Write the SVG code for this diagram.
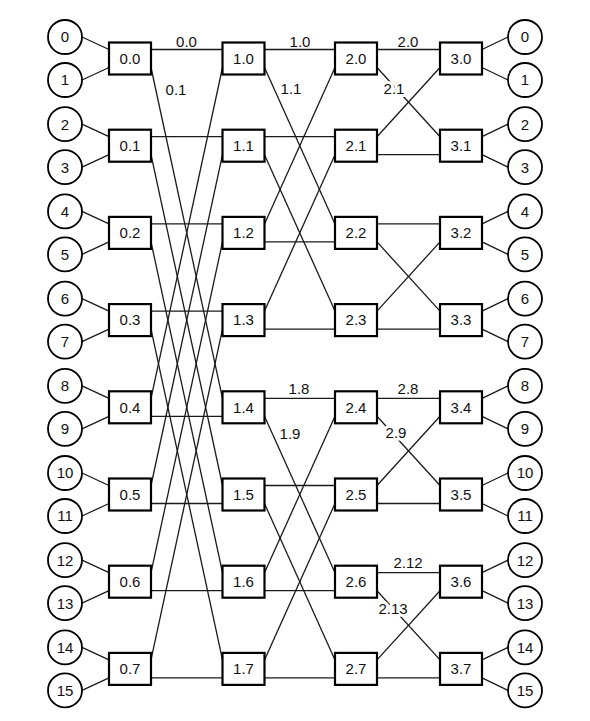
<svg xmlns="http://www.w3.org/2000/svg" width="590" height="721" viewBox="0 0 590 721">
<style>
text{font-family:"Liberation Sans",Arial,sans-serif;font-size:15px;fill:#111;text-anchor:middle}
.e line{stroke:#1a1a1a;stroke-width:1.3}
.box{fill:#fff;stroke:#000;stroke-width:2.2}
.io{fill:#fff;stroke:#000;stroke-width:1.8}
.lbl{stroke:#fff;stroke-width:6;stroke-linejoin:round;paint-order:stroke}
</style>
<rect width="590" height="721" fill="#fff"/>
<g id="connectors" class="e">
<!-- left circles to stage 0 -->
<line x1="82" y1="37" x2="109" y2="49.5"/><line x1="82" y1="80" x2="109" y2="67.5"/>
<line x1="82" y1="124.2" x2="109" y2="136.7"/><line x1="82" y1="167.2" x2="109" y2="154.7"/>
<line x1="82" y1="211.4" x2="109" y2="223.9"/><line x1="82" y1="254.4" x2="109" y2="241.9"/>
<line x1="82" y1="298.6" x2="109" y2="311.1"/><line x1="82" y1="341.6" x2="109" y2="329.1"/>
<line x1="82" y1="385.8" x2="109" y2="398.3"/><line x1="82" y1="428.8" x2="109" y2="416.3"/>
<line x1="82" y1="473" x2="109" y2="485.5"/><line x1="82" y1="516" x2="109" y2="503.5"/>
<line x1="82" y1="560.2" x2="109" y2="572.7"/><line x1="82" y1="603.2" x2="109" y2="590.7"/>
<line x1="82" y1="647.4" x2="109" y2="659.9"/><line x1="82" y1="690.4" x2="109" y2="677.9"/>
<!-- stage 0 to 1 -->
<line x1="151" y1="49.5" x2="222.5" y2="49.5"/><line x1="151" y1="67.5" x2="222.5" y2="398.3"/>
<line x1="151" y1="136.7" x2="222.5" y2="136.7"/><line x1="151" y1="154.7" x2="222.5" y2="485.5"/>
<line x1="151" y1="223.9" x2="222.5" y2="223.9"/><line x1="151" y1="241.9" x2="222.5" y2="572.7"/>
<line x1="151" y1="311.1" x2="222.5" y2="311.1"/><line x1="151" y1="329.1" x2="222.5" y2="659.9"/>
<line x1="151" y1="416.3" x2="222.5" y2="416.3"/><line x1="151" y1="398.3" x2="222.5" y2="67.5"/>
<line x1="151" y1="503.5" x2="222.5" y2="503.5"/><line x1="151" y1="485.5" x2="222.5" y2="154.7"/>
<line x1="151" y1="590.7" x2="222.5" y2="590.7"/><line x1="151" y1="572.7" x2="222.5" y2="241.9"/>
<line x1="151" y1="677.9" x2="222.5" y2="677.9"/><line x1="151" y1="659.9" x2="222.5" y2="329.1"/>
<!-- stage 1 to 2 -->
<line x1="264.5" y1="49.5" x2="335" y2="49.5"/><line x1="264.5" y1="67.5" x2="335" y2="223.9"/>
<line x1="264.5" y1="136.7" x2="335" y2="136.7"/><line x1="264.5" y1="154.7" x2="335" y2="311.1"/>
<line x1="264.5" y1="241.9" x2="335" y2="241.9"/><line x1="264.5" y1="223.9" x2="335" y2="67.5"/>
<line x1="264.5" y1="329.1" x2="335" y2="329.1"/><line x1="264.5" y1="311.1" x2="335" y2="154.7"/>
<line x1="264.5" y1="398.3" x2="335" y2="398.3"/><line x1="264.5" y1="416.3" x2="335" y2="572.7"/>
<line x1="264.5" y1="485.5" x2="335" y2="485.5"/><line x1="264.5" y1="503.5" x2="335" y2="659.9"/>
<line x1="264.5" y1="590.7" x2="335" y2="590.7"/><line x1="264.5" y1="572.7" x2="335" y2="416.3"/>
<line x1="264.5" y1="677.9" x2="335" y2="677.9"/><line x1="264.5" y1="659.9" x2="335" y2="503.5"/>
<!-- stage 2 to 3 -->
<line x1="377" y1="49.5" x2="440" y2="49.5"/><line x1="377" y1="67.5" x2="440" y2="136.7"/>
<line x1="377" y1="154.7" x2="440" y2="154.7"/><line x1="377" y1="136.7" x2="440" y2="67.5"/>
<line x1="377" y1="223.9" x2="440" y2="223.9"/><line x1="377" y1="241.9" x2="440" y2="311.1"/>
<line x1="377" y1="329.1" x2="440" y2="329.1"/><line x1="377" y1="311.1" x2="440" y2="241.9"/>
<line x1="377" y1="398.3" x2="440" y2="398.3"/><line x1="377" y1="416.3" x2="440" y2="485.5"/>
<line x1="377" y1="503.5" x2="440" y2="503.5"/><line x1="377" y1="485.5" x2="440" y2="416.3"/>
<line x1="377" y1="572.7" x2="440" y2="572.7"/><line x1="377" y1="590.7" x2="440" y2="659.9"/>
<line x1="377" y1="677.9" x2="440" y2="677.9"/><line x1="377" y1="659.9" x2="440" y2="590.7"/>
<!-- stage 3 to right circles -->
<line x1="482" y1="49.5" x2="508" y2="37"/><line x1="482" y1="67.5" x2="508" y2="80"/>
<line x1="482" y1="136.7" x2="508" y2="124.2"/><line x1="482" y1="154.7" x2="508" y2="167.2"/>
<line x1="482" y1="223.9" x2="508" y2="211.4"/><line x1="482" y1="241.9" x2="508" y2="254.4"/>
<line x1="482" y1="311.1" x2="508" y2="298.6"/><line x1="482" y1="329.1" x2="508" y2="341.6"/>
<line x1="482" y1="398.3" x2="508" y2="385.8"/><line x1="482" y1="416.3" x2="508" y2="428.8"/>
<line x1="482" y1="485.5" x2="508" y2="473"/><line x1="482" y1="503.5" x2="508" y2="516"/>
<line x1="482" y1="572.7" x2="508" y2="560.2"/><line x1="482" y1="590.7" x2="508" y2="603.2"/>
<line x1="482" y1="659.9" x2="508" y2="647.4"/><line x1="482" y1="677.9" x2="508" y2="690.4"/>
</g>
<g id="edge-labels">
<text x="186.5" y="46.5">0.0</text>
<text class="lbl" x="176" y="94.5">0.1</text>
<text x="300" y="46.5">1.0</text>
<text class="lbl" x="291" y="94">1.1</text>
<text x="408" y="46.5">2.0</text>
<text class="lbl" x="394" y="94.3">2.1</text>
<text x="299" y="393.8">1.8</text>
<text class="lbl" x="290" y="439.3">1.9</text>
<text x="408" y="393.8">2.8</text>
<text class="lbl" x="396" y="438">2.9</text>
<text x="408" y="567.5">2.12</text>
<text class="lbl" x="393" y="614.3">2.13</text>
</g>
<g id="in0"><circle class="io" cx="65" cy="37" r="17"/><text x="65" y="42.3">0</text></g>
<g id="in1"><circle class="io" cx="65" cy="80" r="17"/><text x="65" y="85.3">1</text></g>
<g id="in2"><circle class="io" cx="65" cy="124.2" r="17"/><text x="65" y="129.5">2</text></g>
<g id="in3"><circle class="io" cx="65" cy="167.2" r="17"/><text x="65" y="172.5">3</text></g>
<g id="in4"><circle class="io" cx="65" cy="211.4" r="17"/><text x="65" y="216.7">4</text></g>
<g id="in5"><circle class="io" cx="65" cy="254.4" r="17"/><text x="65" y="259.7">5</text></g>
<g id="in6"><circle class="io" cx="65" cy="298.6" r="17"/><text x="65" y="303.9">6</text></g>
<g id="in7"><circle class="io" cx="65" cy="341.6" r="17"/><text x="65" y="346.9">7</text></g>
<g id="in8"><circle class="io" cx="65" cy="385.8" r="17"/><text x="65" y="391.1">8</text></g>
<g id="in9"><circle class="io" cx="65" cy="428.8" r="17"/><text x="65" y="434.1">9</text></g>
<g id="in10"><circle class="io" cx="65" cy="473" r="17"/><text x="65" y="478.3">10</text></g>
<g id="in11"><circle class="io" cx="65" cy="516" r="17"/><text x="65" y="521.3">11</text></g>
<g id="in12"><circle class="io" cx="65" cy="560.2" r="17"/><text x="65" y="565.5">12</text></g>
<g id="in13"><circle class="io" cx="65" cy="603.2" r="17"/><text x="65" y="608.5">13</text></g>
<g id="in14"><circle class="io" cx="65" cy="647.4" r="17"/><text x="65" y="652.7">14</text></g>
<g id="in15"><circle class="io" cx="65" cy="690.4" r="17"/><text x="65" y="695.7">15</text></g>
<g id="out0"><circle class="io" cx="525" cy="37" r="17"/><text x="525" y="42.3">0</text></g>
<g id="out1"><circle class="io" cx="525" cy="80" r="17"/><text x="525" y="85.3">1</text></g>
<g id="out2"><circle class="io" cx="525" cy="124.2" r="17"/><text x="525" y="129.5">2</text></g>
<g id="out3"><circle class="io" cx="525" cy="167.2" r="17"/><text x="525" y="172.5">3</text></g>
<g id="out4"><circle class="io" cx="525" cy="211.4" r="17"/><text x="525" y="216.7">4</text></g>
<g id="out5"><circle class="io" cx="525" cy="254.4" r="17"/><text x="525" y="259.7">5</text></g>
<g id="out6"><circle class="io" cx="525" cy="298.6" r="17"/><text x="525" y="303.9">6</text></g>
<g id="out7"><circle class="io" cx="525" cy="341.6" r="17"/><text x="525" y="346.9">7</text></g>
<g id="out8"><circle class="io" cx="525" cy="385.8" r="17"/><text x="525" y="391.1">8</text></g>
<g id="out9"><circle class="io" cx="525" cy="428.8" r="17"/><text x="525" y="434.1">9</text></g>
<g id="out10"><circle class="io" cx="525" cy="473" r="17"/><text x="525" y="478.3">10</text></g>
<g id="out11"><circle class="io" cx="525" cy="516" r="17"/><text x="525" y="521.3">11</text></g>
<g id="out12"><circle class="io" cx="525" cy="560.2" r="17"/><text x="525" y="565.5">12</text></g>
<g id="out13"><circle class="io" cx="525" cy="603.2" r="17"/><text x="525" y="608.5">13</text></g>
<g id="out14"><circle class="io" cx="525" cy="647.4" r="17"/><text x="525" y="652.7">14</text></g>
<g id="out15"><circle class="io" cx="525" cy="690.4" r="17"/><text x="525" y="695.7">15</text></g>
<g id="s0_0"><rect class="box" x="109" y="42.5" width="42" height="32"/><text x="130" y="63.8">0.0</text></g>
<g id="s0_1"><rect class="box" x="109" y="129.7" width="42" height="32"/><text x="130" y="151">0.1</text></g>
<g id="s0_2"><rect class="box" x="109" y="216.9" width="42" height="32"/><text x="130" y="238.2">0.2</text></g>
<g id="s0_3"><rect class="box" x="109" y="304.1" width="42" height="32"/><text x="130" y="325.4">0.3</text></g>
<g id="s0_4"><rect class="box" x="109" y="391.3" width="42" height="32"/><text x="130" y="412.6">0.4</text></g>
<g id="s0_5"><rect class="box" x="109" y="478.5" width="42" height="32"/><text x="130" y="499.8">0.5</text></g>
<g id="s0_6"><rect class="box" x="109" y="565.7" width="42" height="32"/><text x="130" y="587">0.6</text></g>
<g id="s0_7"><rect class="box" x="109" y="652.9" width="42" height="32"/><text x="130" y="674.2">0.7</text></g>
<g id="s1_0"><rect class="box" x="222.5" y="42.5" width="42" height="32"/><text x="243.5" y="63.8">1.0</text></g>
<g id="s1_1"><rect class="box" x="222.5" y="129.7" width="42" height="32"/><text x="243.5" y="151">1.1</text></g>
<g id="s1_2"><rect class="box" x="222.5" y="216.9" width="42" height="32"/><text x="243.5" y="238.2">1.2</text></g>
<g id="s1_3"><rect class="box" x="222.5" y="304.1" width="42" height="32"/><text x="243.5" y="325.4">1.3</text></g>
<g id="s1_4"><rect class="box" x="222.5" y="391.3" width="42" height="32"/><text x="243.5" y="412.6">1.4</text></g>
<g id="s1_5"><rect class="box" x="222.5" y="478.5" width="42" height="32"/><text x="243.5" y="499.8">1.5</text></g>
<g id="s1_6"><rect class="box" x="222.5" y="565.7" width="42" height="32"/><text x="243.5" y="587">1.6</text></g>
<g id="s1_7"><rect class="box" x="222.5" y="652.9" width="42" height="32"/><text x="243.5" y="674.2">1.7</text></g>
<g id="s2_0"><rect class="box" x="335" y="42.5" width="42" height="32"/><text x="356" y="63.8">2.0</text></g>
<g id="s2_1"><rect class="box" x="335" y="129.7" width="42" height="32"/><text x="356" y="151">2.1</text></g>
<g id="s2_2"><rect class="box" x="335" y="216.9" width="42" height="32"/><text x="356" y="238.2">2.2</text></g>
<g id="s2_3"><rect class="box" x="335" y="304.1" width="42" height="32"/><text x="356" y="325.4">2.3</text></g>
<g id="s2_4"><rect class="box" x="335" y="391.3" width="42" height="32"/><text x="356" y="412.6">2.4</text></g>
<g id="s2_5"><rect class="box" x="335" y="478.5" width="42" height="32"/><text x="356" y="499.8">2.5</text></g>
<g id="s2_6"><rect class="box" x="335" y="565.7" width="42" height="32"/><text x="356" y="587">2.6</text></g>
<g id="s2_7"><rect class="box" x="335" y="652.9" width="42" height="32"/><text x="356" y="674.2">2.7</text></g>
<g id="s3_0"><rect class="box" x="440" y="42.5" width="42" height="32"/><text x="461" y="63.8">3.0</text></g>
<g id="s3_1"><rect class="box" x="440" y="129.7" width="42" height="32"/><text x="461" y="151">3.1</text></g>
<g id="s3_2"><rect class="box" x="440" y="216.9" width="42" height="32"/><text x="461" y="238.2">3.2</text></g>
<g id="s3_3"><rect class="box" x="440" y="304.1" width="42" height="32"/><text x="461" y="325.4">3.3</text></g>
<g id="s3_4"><rect class="box" x="440" y="391.3" width="42" height="32"/><text x="461" y="412.6">3.4</text></g>
<g id="s3_5"><rect class="box" x="440" y="478.5" width="42" height="32"/><text x="461" y="499.8">3.5</text></g>
<g id="s3_6"><rect class="box" x="440" y="565.7" width="42" height="32"/><text x="461" y="587">3.6</text></g>
<g id="s3_7"><rect class="box" x="440" y="652.9" width="42" height="32"/><text x="461" y="674.2">3.7</text></g>
</svg>
